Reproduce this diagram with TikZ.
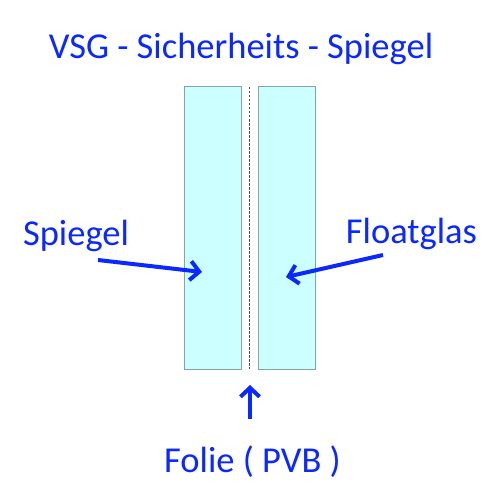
\documentclass[tikz,border=0pt]{standalone}
\usepackage{fontspec}
\setmainfont{Carlito}
\usetikzlibrary{arrows.meta}
\definecolor{txtblue}{RGB}{10,40,255}
\definecolor{glass}{RGB}{204,255,255}
\definecolor{glassedge}{RGB}{130,165,165}
\tikzset{
  pane/.style={draw=glassedge, fill=glass, line width=1pt, minimum width=57pt, minimum height=282pt, inner sep=0pt},
  lbl/.style={text=txtblue, font=\fontsize{36.5}{42}\selectfont, inner sep=0pt, anchor=base},
  pointer/.style={draw=txtblue, line width=4pt, -{Straight Barb[length=9pt,width=19pt,line width=4pt]}},
}
\begin{document}
\begin{tikzpicture}[x=1pt,y=-1pt]
\useasboundingbox (0,0) rectangle (500,500);
\fill[white] (0,0) rectangle (500,500);
\node[pane] (left) at (212.5,228) {};
\node[pane] (right) at (287,228) {};
\coordinate (ftop) at (249.5,87);
\coordinate (fbot) at (249.5,369);
\draw[dash pattern=on 2.5pt off 1.5pt, line width=1.2pt, gray!60!black] (ftop) -- (fbot);
\node[lbl] (title) at (241,59) {VSG - Sicherheits - Spiegel};
\node[lbl] (spiegel) at (76,245) {Spiegel};
\node[lbl] (float) at (411.5,243) {Floatglas};
\node[lbl] (folie) at (252.5,472) {Folie ( PVB )};
\coordinate (s0) at (98,260);
\coordinate (s1) at (202,272);
\coordinate (f0) at (383,255);
\coordinate (f1) at (286,277);
\coordinate (u0) at (250,419);
\coordinate (u1) at (250,385);
\draw[pointer] (s0) -- (s1);
\draw[pointer] (f0) -- (f1);
\draw[pointer] (u0) -- (u1);
\end{tikzpicture}
\end{document}
